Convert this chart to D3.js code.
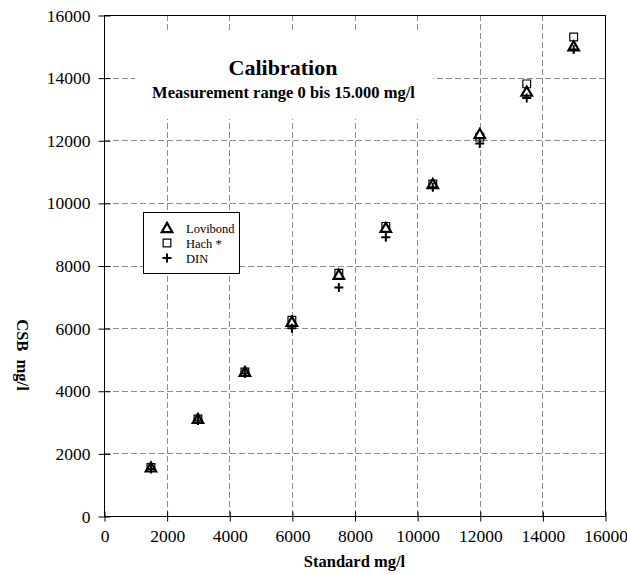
<!DOCTYPE html>
<html>
<head>
<meta charset="utf-8">
<script src="https://cdn.jsdelivr.net/npm/d3@7"></script>
<style>
  html, body { margin: 0; padding: 0; background: #fff; }
  svg { display: block; font-family: "Liberation Serif", "Times New Roman", serif; }
</style>
</head>
<body>
<svg id="chart" width="627" height="575"></svg>
<script>
const standard = [1500, 3000, 4500, 6000, 7500, 9000, 10500, 12000, 13500, 15000];
const lovibond = [1550, 3100, 4600, 6200, 7700, 9200, 10600, 12200, 13550, 15000];
const hach     = [1550, 3100, 4600, 6250, 7750, 9250, 10600, 12100, 13800, 15300];
const din      = [1500, 3050, 4550, 6000, 7300, 8900, 10500, 11900, 13350, 14900];
const xTicks = [0, 2000, 4000, 6000, 8000, 10000, 12000, 14000, 16000];
const yTicks = [0, 2000, 4000, 6000, 8000, 10000, 12000, 14000, 16000];
const seriesNames = ["Lovibond", "Hach *", "DIN"];
const titleText = "Calibration";
const subtitleText = "Measurement range 0 bis 15.000 mg/l";
const xTitle = "Standard mg/l";
const yTitle = "CSB  mg/l";

const svg = d3.select("#chart");
const L = 104, R = 605, T = 15, B = 516;
const x = d3.scaleLinear().domain([0, 16000]).range([L, R]);
const y = d3.scaleLinear().domain([0, 16000]).range([B, T]);

// grid
const grid = svg.append("g").attr("stroke", "#8c8c8c").attr("stroke-width", 1).attr("stroke-dasharray", "6,3");
grid.selectAll(".gx").data(xTicks.slice(1, -1)).join("line")
  .attr("x1", d => Math.round(x(d)) + 0.5).attr("x2", d => Math.round(x(d)) + 0.5)
  .attr("y1", T).attr("y2", B);
grid.selectAll(".gy").data(yTicks.slice(1, -1)).join("line")
  .attr("y1", d => Math.round(y(d)) + 0.5).attr("y2", d => Math.round(y(d)) + 0.5)
  .attr("x1", L).attr("x2", R);

// title box (white, covers grid)
svg.append("rect").attr("x", 135).attr("y", 30).attr("width", 298).attr("height", 89).attr("fill", "#fff");
svg.append("text").attr("x", 283).attr("y", 75).attr("text-anchor", "middle")
  .attr("font-weight", "bold").attr("font-size", 22).text(titleText);
svg.append("text").attr("x", 283.5).attr("y", 98).attr("text-anchor", "middle")
  .attr("font-weight", "bold").attr("font-size", 16.5).text(subtitleText);

// frame
svg.append("rect").attr("x", L + 0.5).attr("y", T + 0.5).attr("width", R - L).attr("height", B - T)
  .attr("fill", "none").attr("stroke", "#000").attr("stroke-width", 1);

// axes
const xAxis = d3.axisBottom(x).tickValues(xTicks).tickSize(5).tickPadding(8).tickFormat(d3.format("d"));
const gx = svg.append("g").attr("transform", `translate(0.5,${B + 0.5})`).call(xAxis);
gx.select(".domain").remove();
gx.selectAll(".tick line").attr("y1", -5).attr("stroke", "#000");
gx.selectAll("text").attr("font-family", "Liberation Serif, serif").attr("font-size", 17.5).attr("fill", "#000");

const yAxis = d3.axisLeft(y).tickValues(yTicks).tickSize(6).tickPadding(8).tickFormat(d3.format("d"));
const gy = svg.append("g").attr("transform", `translate(${L + 0.5},0.5)`).call(yAxis);
gy.select(".domain").remove();
gy.selectAll(".tick line").attr("x1", 6).attr("stroke", "#000");
gy.selectAll("text").attr("font-family", "Liberation Serif, serif").attr("font-size", 17.5).attr("fill", "#000");

// axis titles
svg.append("text").attr("x", x(8000)).attr("y", 567).attr("text-anchor", "middle")
  .attr("font-weight", "bold").attr("font-size", 16.5).text(xTitle);
svg.append("text").attr("transform", "translate(17,355) rotate(90)").attr("text-anchor", "middle")
  .attr("font-weight", "bold").attr("font-size", 16.5).style("white-space", "pre").text(yTitle);

// markers
const tri = d3.symbol().type(d3.symbolTriangle).size(48);
const sq = d3.symbol().type(d3.symbolSquare).size(60);
const plus = "M-4.5,0H4.5M0,-4.5V4.5";

const pts = svg.append("g");
pts.selectAll(".h").data(standard.map((s, i) => [s, hach[i]])).join("path")
  .attr("d", sq).attr("transform", d => `translate(${x(d[0])},${y(d[1])})`)
  .attr("fill", "#fff").attr("stroke", "#000").attr("stroke-width", 1.2);
pts.selectAll(".l").data(standard.map((s, i) => [s, lovibond[i]])).join("path")
  .attr("d", tri).attr("transform", d => `translate(${x(d[0])},${y(d[1]) + 1})`)
  .attr("fill", "#fff").attr("stroke", "#000").attr("stroke-width", 2.2);
pts.selectAll(".d").data(standard.map((s, i) => [s, din[i]])).join("path")
  .attr("d", plus).attr("transform", d => `translate(${x(d[0])},${y(d[1])})`)
  .attr("fill", "none").attr("stroke", "#000").attr("stroke-width", 2);

// legend
const lg = svg.append("g");
lg.append("rect").attr("x", 143.5).attr("y", 212.5).attr("width", 96).attr("height", 61)
  .attr("fill", "#fff").attr("stroke", "#000").attr("stroke-width", 1);
const rowsY = [228, 243, 258];
lg.append("path").attr("d", tri).attr("transform", `translate(167,${rowsY[0] + 1})`)
  .attr("fill", "#fff").attr("stroke", "#000").attr("stroke-width", 2.2);
lg.append("path").attr("d", sq).attr("transform", `translate(167,${rowsY[1]})`)
  .attr("fill", "#fff").attr("stroke", "#000").attr("stroke-width", 1.2);
lg.append("path").attr("d", plus).attr("transform", `translate(167,${rowsY[2]})`)
  .attr("fill", "none").attr("stroke", "#000").attr("stroke-width", 2);
lg.selectAll(".lt").data(seriesNames).join("text")
  .attr("x", 186).attr("y", (d, i) => rowsY[i] + 4.5).attr("font-size", 12.5).text(d => d);
</script>
</body>
</html>
